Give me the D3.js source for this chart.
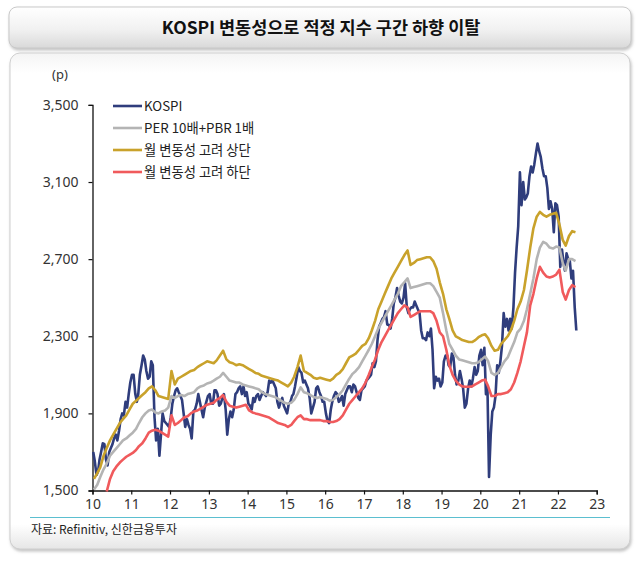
<!DOCTYPE html>
<html><head><meta charset="utf-8">
<script src="https://cdn.jsdelivr.net/npm/d3@7"></script>
<style>html,body{margin:0;padding:0;background:#fff;}svg{display:block;}</style>
</head><body>
<svg id="chart" width="640" height="562"></svg>
<script>
// ---- DATA ----
const title = "KOSPI 변동성으로 적정 지수 구간 하향 이탈";
const source = "자료: Refinitiv, 신한금융투자";
const unitLabel = "(p)";
const seriesNames = ["KOSPI", "PER 10배+PBR 1배", "월 변동성 고려 상단", "월 변동성 고려 하단"];
const yTicks = [1500, 1900, 2300, 2700, 3100, 3500];
const xYears = [2010,2011,2012,2013,2014,2015,2016,2017,2018,2019,2020,2021,2022,2023];

// KOSPI, twice a month from Jan 2010 to Jun 2022
const kospi = [
 1700,1650,1580,1600,1660,1700,1745,1740,1660,1630,1700,1720,1740,1770,1790,1760,1810,1870,1900,1890,1960,1930,2000,2060,
 2100,2100,2000,1960,2000,2100,2150,2200,2180,2120,2080,2090,2170,2150,1880,1760,1820,1680,1790,1900,1860,1850,1840,1830,
 1880,1950,1990,2020,2030,2010,1990,1970,1900,1830,1870,1840,1820,1770,1910,1920,1950,2000,1960,1920,1880,1930,1960,1990,
 2000,1950,1950,2020,2020,2000,1940,1950,1980,2000,1920,1790,1870,1910,1880,1920,2000,2010,2030,2040,2000,2040,1990,2010,
 1950,1940,1920,1980,1960,1990,2000,1970,1990,2010,2000,1990,2010,2070,2060,2070,2050,2030,1960,1930,1960,1980,1940,1920,
 1900,1950,1960,1990,2000,2040,2090,2140,2120,2110,2060,2070,2050,2030,1980,1900,1930,1960,2030,2040,2010,1990,1960,1960,
 1900,1860,1850,1920,1960,1990,2010,2000,1960,1970,1990,1940,2000,2020,2040,2040,2010,2050,2040,2010,1980,1970,2020,2030,
 2040,2070,2080,2090,2100,2160,2140,2170,2280,2350,2370,2390,2400,2430,2360,2360,2340,2390,2470,2500,2550,2510,2480,2470,
 2500,2575,2450,2420,2440,2450,2450,2480,2460,2440,2420,2330,2290,2290,2280,2320,2300,2340,2230,2030,2090,2070,2080,2040,
 2060,2170,2200,2200,2150,2140,2210,2190,2100,2050,2070,2120,2080,2030,1930,1950,2030,2070,2040,2080,2140,2100,2120,2200,
 2230,2150,2240,2000,2040,1570,1790,1910,1930,1990,2150,2110,2170,2250,2420,2350,2390,2330,2390,2340,2450,2630,2760,2870,
 3150,2980,3100,3010,3020,3040,3130,3180,3150,3190,3250,3300,3260,3230,3170,3130,3130,3070,2960,3000,2960,2840,2990,2980,
 2920,2660,2750,2680,2640,2730,2700,2690,2600,2640,2450,2330
];

// PER 10x + PBR 1x, monthly from Jan 2010 to Jun 2022
const perPbr = [
 1505,1530,1570,1610,1640,1680,1700,1720,1740,1760,1770,1785,
 1800,1820,1850,1880,1900,1915,1920,1905,1900,1910,1915,1930,
 1990,1980,1990,1995,1990,2000,2005,2010,2030,2040,2045,2055,
 2060,2070,2080,2090,2110,2090,2070,2065,2060,2060,2050,2045,
 2040,2035,2030,2025,2010,2000,1995,1990,1985,1975,1965,1955,
 1950,1955,1970,2000,2035,2010,2005,1995,1985,1980,1985,1980,
 1975,1965,1970,1985,2000,2020,2050,2080,2105,2120,2140,2170,
 2200,2230,2260,2300,2340,2370,2400,2430,2460,2490,2520,2560,
 2580,2600,2550,2555,2560,2565,2570,2575,2575,2560,2530,2500,
 2420,2330,2260,2230,2200,2180,2175,2170,2165,2160,2160,2165,
 2180,2195,2170,2110,2100,2110,2140,2170,2190,2230,2270,2320,
 2340,2380,2440,2520,2600,2700,2760,2790,2780,2760,2755,2765,
 2760,2680,2640,2700,2700,2690
];

// Upper band (monthly volatility), monthly from Jan 2010 to Jun 2022
const upper = [
 1560,1590,1620,1680,1720,1760,1790,1820,1850,1870,1890,1920,
 1950,1965,1980,1995,2010,2030,2040,2020,1990,1985,1980,1975,
 2120,2050,2080,2090,2100,2110,2120,2125,2140,2150,2160,2170,
 2165,2160,2175,2200,2225,2180,2165,2160,2150,2155,2150,2140,
 2130,2120,2110,2105,2095,2090,2085,2080,2075,2070,2060,2050,
 2040,2060,2090,2140,2200,2120,2110,2100,2085,2080,2085,2080,
 2075,2070,2080,2100,2110,2130,2160,2190,2200,2210,2230,2250,
 2260,2290,2330,2380,2440,2480,2520,2560,2600,2630,2660,2690,
 2720,2745,2670,2680,2695,2700,2705,2710,2710,2690,2650,2580,
 2520,2440,2390,2330,2300,2290,2280,2275,2270,2270,2280,2295,
 2305,2310,2290,2250,2225,2230,2260,2280,2300,2330,2380,2440,
 2480,2540,2640,2760,2860,2920,2945,2930,2920,2930,2935,2940,
 2880,2800,2770,2820,2845,2840
];

// Lower band (monthly volatility), monthly from May 2010 to Jun 2022
const lowerStartMonth = 4;
const lower = [
 1495,1560,1600,1625,1645,1660,1675,1685,
 1695,1710,1730,1745,1770,1800,1810,1815,1810,1800,1790,1780,
 1890,1840,1850,1865,1880,1885,1900,1910,1915,1925,1935,1945,
 1950,1955,1970,1980,1995,1960,1940,1935,1930,1935,1940,1945,
 1915,1905,1900,1895,1890,1885,1880,1870,1860,1850,1845,1840,
 1830,1840,1860,1880,1890,1870,1870,1865,1865,1865,1865,1860,
 1860,1855,1855,1860,1870,1890,1920,1950,1970,1990,2010,2030,
 2060,2100,2140,2180,2230,2270,2300,2330,2360,2390,2420,2440,
 2460,2450,2400,2410,2420,2430,2430,2430,2430,2420,2380,2320,
 2300,2230,2150,2100,2070,2050,2040,2038,2038,2040,2050,2060,
 2070,2075,2040,1990,1990,2000,2000,2005,2010,2025,2060,2110,
 2170,2250,2320,2460,2520,2600,2660,2630,2610,2605,2610,2620,
 2645,2530,2490,2540,2565,2555
];

const colors = ["#2f3d7c", "#b4b4b4", "#c9a22b", "#f05a5c"];

// ---- BUILD ----
const kospiData = kospi.map((v, i) => ({date: new Date(2010, Math.floor(i / 2), i % 2 ? 23 : 8), value: v}));
const monthly = (arr, off) => arr.map((v, i) => ({date: new Date(2010, off + i, 15), value: v}));
const allSeries = [kospiData, monthly(perPbr, 0), monthly(upper, 0), monthly(lower, lowerStartMonth)];

const svg = d3.select("#chart");
const defs = svg.append("defs");
const g1 = defs.append("linearGradient").attr("id", "titleGrad").attr("x1", 0).attr("y1", 0).attr("x2", 0).attr("y2", 1);
g1.append("stop").attr("offset", "0%").attr("stop-color", "#ffffff");
g1.append("stop").attr("offset", "55%").attr("stop-color", "#f1f1f1");
g1.append("stop").attr("offset", "100%").attr("stop-color", "#d9d9d9");
const g2 = defs.append("linearGradient").attr("id", "panelGrad").attr("x1", 0).attr("y1", 0).attr("x2", 0).attr("y2", 1);
g2.append("stop").attr("offset", "0%").attr("stop-color", "#f4f4f4");
g2.append("stop").attr("offset", "4%").attr("stop-color", "#ffffff");
g2.append("stop").attr("offset", "95%").attr("stop-color", "#ffffff");
g2.append("stop").attr("offset", "100%").attr("stop-color", "#e6e6e6");
const sh = defs.append("filter").attr("id", "shadow").attr("x", "-5%").attr("y", "-10%").attr("width", "110%").attr("height", "125%");
sh.append("feDropShadow").attr("dx", 1).attr("dy", 2).attr("stdDeviation", 1.5).attr("flood-color", "#999").attr("flood-opacity", 0.6);

// title box
svg.append("rect").attr("x", 9).attr("y", 7).attr("width", 622).attr("height", 41).attr("rx", 8)
  .attr("fill", "url(#titleGrad)").attr("stroke", "#c9c9c9").attr("filter", "url(#shadow)");
svg.append("text").attr("x", 321).attr("y", 34).attr("text-anchor", "middle")
  .attr("font-family", "'Noto Sans CJK KR', sans-serif").attr("font-weight", 700).attr("font-size", 17.5)
  .attr("fill", "#111").text(title);

// panel
svg.append("rect").attr("x", 10).attr("y", 53).attr("width", 620).attr("height", 496).attr("rx", 10)
  .attr("fill", "url(#panelGrad)").attr("stroke", "#cfcfcf").attr("filter", "url(#shadow)");

// scales
const x = d3.scaleTime().domain([new Date(2010, 0, 1), new Date(2023, 0, 1)]).range([92.5, 596.7]);
const y = d3.scaleLinear().domain([1500, 3500]).range([490.5, 104.9]);

const tickFont = "'Noto Sans', sans-serif";
// y axis
const yAxis = svg.append("g").attr("transform", "translate(92.5,0)")
  .call(d3.axisLeft(y).tickValues(yTicks).tickFormat(d3.format(",")).tickSize(4).tickPadding(10));
yAxis.select(".domain").attr("stroke", "#111").attr("stroke-width", 1.3);
yAxis.selectAll(".tick line").attr("stroke", "#111").attr("stroke-width", 1.2);
yAxis.selectAll("text").attr("font-family", tickFont).attr("font-size", 14).attr("fill", "#333");

// x axis
const xAxis = svg.append("g").attr("transform", "translate(0,490.5)")
  .call(d3.axisBottom(x).tickValues(xYears.map(yr => new Date(yr, 0, 1))).tickFormat(d3.timeFormat("%y")).tickSize(4).tickPadding(5));
xAxis.select(".domain").attr("stroke", "#111").attr("stroke-width", 1.3);
xAxis.selectAll(".tick line").attr("stroke", "#111").attr("stroke-width", 1.2);
xAxis.selectAll("text").attr("font-family", tickFont).attr("font-size", 14).attr("fill", "#333");

// unit
svg.append("text").attr("x", 60).attr("y", 79).attr("text-anchor", "middle")
  .attr("font-family", tickFont).attr("font-size", 13).attr("fill", "#333").text(unitLabel);

// lines
const line = d3.line().x(d => x(d.date)).y(d => y(d.value)).curve(d3.curveLinear);
allSeries.forEach((s, i) => {
  svg.append("path").datum(s).attr("d", line).attr("fill", "none")
    .attr("stroke", colors[i]).attr("stroke-width", 2.6).attr("stroke-linejoin", "round");
});

// legend
const leg = svg.append("g");
seriesNames.forEach((n, i) => {
  const yy = 106 + i * 22;
  leg.append("line").attr("x1", 113).attr("x2", 142).attr("y1", yy).attr("y2", yy)
    .attr("stroke", colors[i]).attr("stroke-width", 2.6);
  leg.append("text").attr("x", 144).attr("y", yy + 4.5)
    .attr("font-family", "'Noto Sans CJK KR', 'Noto Sans', sans-serif").attr("font-size", 13.3)
    .attr("fill", "#222").text(n);
});

// source separator and text
svg.append("line").attr("x1", 30).attr("x2", 610).attr("y1", 517.5).attr("y2", 517.5)
  .attr("stroke", "#5bbfd0").attr("stroke-width", 1.2);
svg.append("text").attr("x", 31).attr("y", 534)
  .attr("font-family", "'Noto Sans CJK KR', sans-serif").attr("font-size", 12)
  .attr("fill", "#222").text(source);
</script>
</body></html>
